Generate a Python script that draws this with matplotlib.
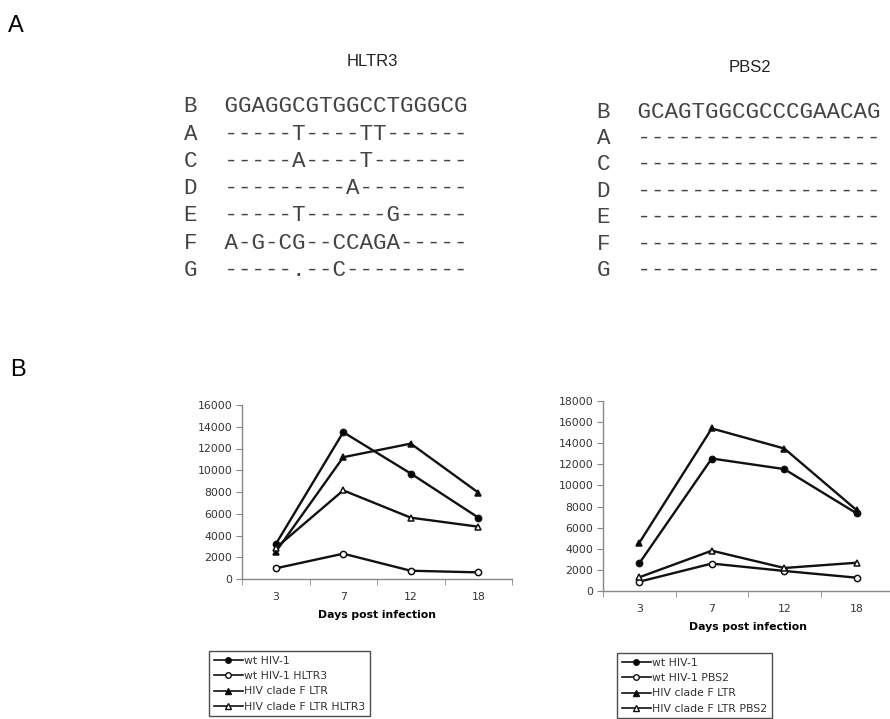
import matplotlib
matplotlib.use('Agg')
import matplotlib.pyplot as plt
from matplotlib.lines import Line2D

# ============================================================
# DATA
# ============================================================
days = ['3', '7', '12', '18']

# left panel (HLTR3)
wt_hltr = [3200, 13500, 9700, 5650]
wt_hltr3 = [980, 2330, 760, 610]
cladeF_hltr = [2500, 11200, 12450, 7950]
cladeF_hltr3 = [2850, 8150, 5640, 4810]

# right panel (PBS2)
wt_pbs = [2620, 12550, 11550, 7350]
wt_pbs2 = [880, 2600, 1900, 1260]
cladeF_pbs = [4560, 15400, 13500, 7650]
cladeF_pbs2 = [1300, 3820, 2180, 2680]

hltr3_ref = 'GGAGGCGTGGCCTGGGCG'
hltr3_rows = ['A', 'C', 'D', 'E', 'F', 'G']
hltr3_seqs = ['-----T----TT------',
              '-----A----T-------',
              '---------A--------',
              '-----T------G-----',
              'A-G-CG--CCAGA-----',
              '-----.--C---------']

pbs2_ref = 'GCAGTGGCGCCCGAACAG'
pbs2_rows = ['A', 'C', 'D', 'E', 'F', 'G']
pbs2_seqs = ['-' * 18] * 6

legend_left = ['wt HIV-1', 'wt HIV-1 HLTR3', 'HIV clade F LTR', 'HIV clade F LTR HLTR3']
legend_right = ['wt HIV-1', 'wt HIV-1 PBS2', 'HIV clade F LTR', 'HIV clade F LTR PBS2']

# ============================================================
# FIGURE
# ============================================================
W, H = 890, 719
fig = plt.figure(figsize=(W / 100, H / 100), dpi=100)


def fx(px):
    return px / W


def fy(py):
    return 1 - py / H


def ftext(x, y, s, **kw):
    fig.text(fx(x), fy(y), s, **kw)


# panel letters
ftext(8, 26, 'A', fontsize=17, family='Liberation Sans', va='center', ha='left')
ftext(10, 370, 'B', fontsize=17, family='Liberation Sans', va='center', ha='left')

# sequence titles
ftext(372, 62, 'HLTR3', fontsize=12, family='Liberation Sans', ha='center', va='center', color='#222')
ftext(750, 68, 'PBS2', fontsize=12, family='Liberation Sans', ha='center', va='center', color='#222')

seq_kw = dict(fontsize=16.2, family='Liberation Mono', va='center', ha='left', color='#444')

# left alignment
ftext(184, 107, 'B  ' + hltr3_ref, **seq_kw)
for i, (r, s) in enumerate(zip(hltr3_rows, hltr3_seqs)):
    ftext(184, 107 + 27.2 * (i + 1), r + '  ' + s, **seq_kw)

# right alignment
ftext(597, 112, 'B  ' + pbs2_ref, **seq_kw)
for i, (r, s) in enumerate(zip(pbs2_rows, pbs2_seqs)):
    ftext(597, 112 + 26.4 * (i + 1), r + '  ' + s, **seq_kw)

# ============================================================
# LINE CHARTS
# ============================================================
styles = [dict(marker='o', mfc='black'),
          dict(marker='o', mfc='white'),
          dict(marker='^', mfc='black'),
          dict(marker='^', mfc='white')]


def make_panel(rect, series, ymax, labels, leg_xy):
    ax = fig.add_axes(rect)
    x = range(len(days))
    for vals, st, lab in zip(series, styles, labels):
        ax.plot(x, vals, color='#111', lw=1.7, marker=st['marker'],
                mfc=st['mfc'], mec='#111', mew=1.1, ms=4.5, label=lab)
    ax.set_xlim(-0.5, 3.5)
    ax.set_ylim(0, ymax)
    ax.set_yticks(range(0, ymax + 1, 2000))
    ax.set_xticks(list(x))
    ax.set_xticklabels(days)
    ax.set_xticks([-0.5, 0.5, 1.5, 2.5, 3.5], minor=True)
    ax.tick_params(axis='x', which='major', length=0, pad=9, labelsize=7.8, labelcolor='#333')
    ax.tick_params(axis='x', which='minor', length=4, color='#888', direction='out')
    ax.tick_params(axis='y', length=4, color='#888', labelsize=7.8, labelcolor='#333', pad=3)
    for side in ['top', 'right']:
        ax.spines[side].set_visible(False)
    for side in ['left', 'bottom']:
        ax.spines[side].set_color('#888')
        ax.spines[side].set_linewidth(1.0)
    ax.set_xlabel('Days post infection', fontsize=7.8, fontweight='bold', labelpad=6)
    ax.patch.set_alpha(0)

    # legend with short handles
    leg_handles = [Line2D([], [], color='#111', lw=1.2, marker=st['marker'], mfc=st['mfc'],
                          mec='#111', ms=4) for st in styles]
    leg = fig.legend(leg_handles, labels, loc='upper left',
                     bbox_to_anchor=(fx(leg_xy[0]), fy(leg_xy[1])),
                     fontsize=7.8, frameon=True, fancybox=False, handlelength=2.7,
                     handletextpad=0.15, labelspacing=0.5, borderpad=0.42,
                     borderaxespad=0)
    leg.get_frame().set_edgecolor('#222')
    leg.get_frame().set_linewidth(1.0)
    for t in leg.get_texts():
        t.set_color('#333')
    return ax


make_panel([fx(242), fy(579), 270 / W, 174 / H],
           [wt_hltr, wt_hltr3, cladeF_hltr, cladeF_hltr3], 16000,
           legend_left, (209, 651))

make_panel([fx(603), fy(591), 290 / W, 190 / H],
           [wt_pbs, wt_pbs2, cladeF_pbs, cladeF_pbs2], 18000,
           legend_right, (617, 653))

plt.savefig('out.png', dpi=100)
